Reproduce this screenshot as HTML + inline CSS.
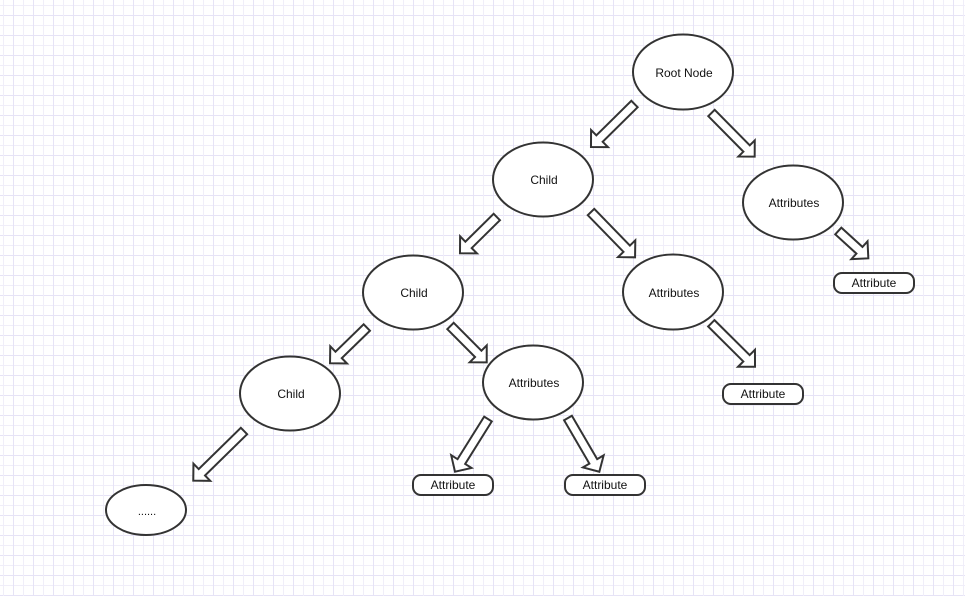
<!DOCTYPE html>
<html>
<head>
<meta charset="utf-8">
<style>
  html, body { margin: 0; padding: 0; }
  body {
    width: 965px; height: 596px; overflow: hidden; background-color: #ffffff;
    background-image:
      linear-gradient(to right, #e6e3f6 1px, transparent 1px),
      linear-gradient(to right, #f0eef9 1px, transparent 1px),
      linear-gradient(to bottom, #e6e3f6 1px, transparent 1px),
      linear-gradient(to bottom, #f0eef9 1px, transparent 1px);
    background-size: 20px 20px, 20px 20px, 20px 20px, 20px 20px;
    background-position: 13px 0, 3px 0, 0 15px, 0 5px;
  }
  svg { position: absolute; left: 0; top: 0; }
  text { font-family: "Liberation Sans", Arial, sans-serif; font-size: 12px; fill: #111; }
</style>
</head>
<body>
<svg width="965" height="596" viewBox="0 0 965 596" xmlns="http://www.w3.org/2000/svg">
  <g fill="#ffffff" stroke="#333333" stroke-width="2" stroke-linejoin="miter">
    <!-- arrows -->
    <path transform="translate(634.5,104) rotate(135.33)" d="M0,-4.5 H49.2 V-12 L61.2,0 L49.2,12 V4.5 H0 Z"/>
    <path transform="translate(711.5,113) rotate(45.33)" d="M0,-4.5 H49.9 V-11.5 L61.4,0 L49.9,11.5 V4.5 H0 Z"/>
    <path transform="translate(496.8,217) rotate(135.4)" d="M0,-4.5 H39.7 V-12 L51.7,0 L39.7,12 V4.5 H0 Z"/>
    <path transform="translate(591,212) rotate(45.8)" d="M0,-4.5 H51.2 V-12 L63.2,0 L51.2,12 V4.5 H0 Z"/>
    <path transform="translate(838.3,231) rotate(42.3)" d="M0,-4.5 H28.6 V-12 L40.6,0 L28.6,12 V4.5 H0 Z"/>
    <path transform="translate(366.8,327.5) rotate(135.8)" d="M0,-4.5 H39.3 V-12 L51.3,0 L39.3,12 V4.5 H0 Z"/>
    <path transform="translate(450.5,326) rotate(45.1)" d="M0,-4.5 H39.3 V-12 L51.3,0 L39.3,12 V4.5 H0 Z"/>
    <path transform="translate(711.3,323.3) rotate(44.8)" d="M0,-4.5 H49.6 V-12 L61.6,0 L49.6,12 V4.5 H0 Z"/>
    <path transform="translate(244,431) rotate(135.6)" d="M0,-4.5 H59 V-12 L71,0 L59,12 V4.5 H0 Z"/>
    <path transform="translate(488,419) rotate(122.05)" d="M0,-4.5 H50.2 V-12 L62.2,0 L50.2,12 V4.5 H0 Z"/>
    <path transform="translate(568,418) rotate(59.76)" d="M0,-4.5 H50.2 V-12 L62.2,0 L50.2,12 V4.5 H0 Z"/>

    <!-- ellipses -->
    <ellipse cx="683" cy="72" rx="50" ry="37.5"/>
    <ellipse cx="543" cy="179.5" rx="50" ry="37"/>
    <ellipse cx="793" cy="202.5" rx="50" ry="37"/>
    <ellipse cx="413" cy="292.5" rx="50" ry="37"/>
    <ellipse cx="673" cy="292" rx="50" ry="37.5"/>
    <ellipse cx="290" cy="393.5" rx="50" ry="37"/>
    <ellipse cx="533" cy="382.5" rx="50" ry="37"/>
    <ellipse cx="146" cy="510" rx="40" ry="25"/>

    <!-- rounded rects -->
    <rect x="834" y="273" width="80" height="20" rx="8" ry="8"/>
    <rect x="723" y="384" width="80" height="20" rx="8" ry="8"/>
    <rect x="413" y="475" width="80" height="20" rx="8" ry="8"/>
    <rect x="565" y="475" width="80" height="20" rx="8" ry="8"/>
  </g>

  <g text-anchor="middle">
    <text x="684" y="77">Root Node</text>
    <text x="544" y="184">Child</text>
    <text x="794" y="207">Attributes</text>
    <text x="414" y="297">Child</text>
    <text x="674" y="297">Attributes</text>
    <text x="291" y="398">Child</text>
    <text x="534" y="387">Attributes</text>
    <text x="147" y="515" style="font-size:11px">......</text>
    <text x="874" y="287">Attribute</text>
    <text x="763" y="398">Attribute</text>
    <text x="453" y="489">Attribute</text>
    <text x="605" y="489">Attribute</text>
  </g>
</svg>
</body>
</html>
